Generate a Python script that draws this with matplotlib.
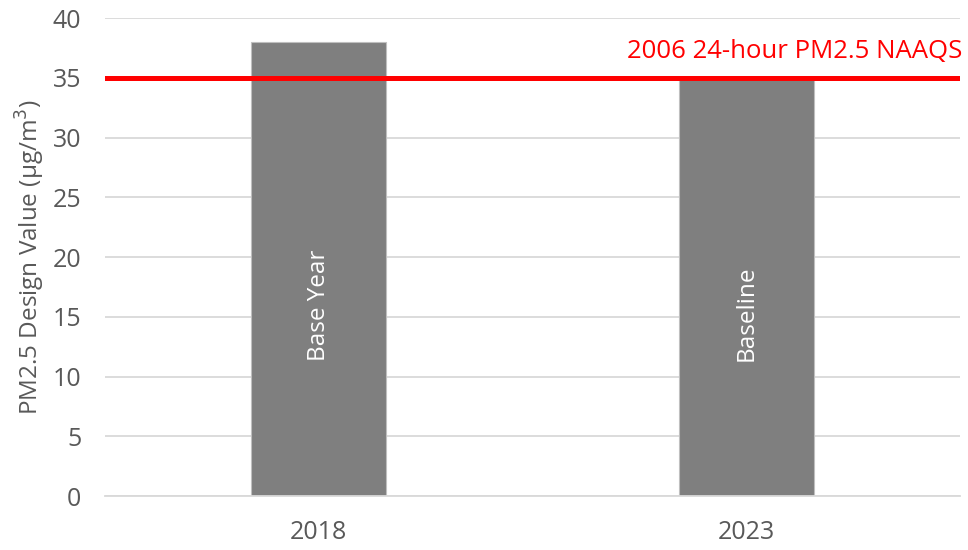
import matplotlib.pyplot as plt
import matplotlib.transforms as mtransforms

years = ['2018', '2023']
design_values = [38.0, 34.9]
bar_labels = ['Base Year', 'Baseline']
naaqs_value = 35
naaqs_label = '2006 24-hour PM2.5 NAAQS'

plt.rcParams['font.family'] = ['Open Sans', 'DejaVu Sans']

fig = plt.figure(figsize=(9.68, 5.5), dpi=100)
ax = fig.add_axes([0.1085, 0.098, 0.8835, 0.869])

x = range(len(years))
ax.bar(x, design_values, width=0.316, color='#7f7f7f', edgecolor='#bfbfbf',
       linewidth=0.8, zorder=2)
for xi, lab in zip(x, bar_labels):
    ax.text(xi, 11.3, lab, rotation=90, ha='center', va='bottom',
            color='white', fontsize=17.5, zorder=3)

ax.axhline(naaqs_value, color='#ff0000', linewidth=3.6, zorder=4)
trans = mtransforms.blended_transform_factory(ax.transAxes, ax.transData)
ax.text(1.002, 37.2, naaqs_label, transform=trans, ha='right', va='center',
        color='#ff0000', fontsize=18.5)

ax.set_xlim(-0.5, 1.5)
ax.set_ylim(0, 40)
ax.set_yticks(range(0, 41, 5))
ax.set_xticks(list(x))
ax.set_xticklabels(years)
ax.yaxis.grid(True, color='#d9d9d9', linewidth=1.3, zorder=0)
ax.set_axisbelow(True)
for side in ['top', 'right', 'left']:
    ax.spines[side].set_visible(False)
ax.spines['bottom'].set_color('#d9d9d9')
ax.spines['bottom'].set_linewidth(1.3)
ax.tick_params(length=0, labelsize=18, colors='#595959')
ax.tick_params(axis='y', pad=17)
ax.tick_params(axis='x', pad=17)
ax.set_ylabel('PM2.5 Design Value (μg/m$^3$)', fontsize=17.5, color='#595959',
              labelpad=4)

fig.savefig('out.png', dpi=100)
